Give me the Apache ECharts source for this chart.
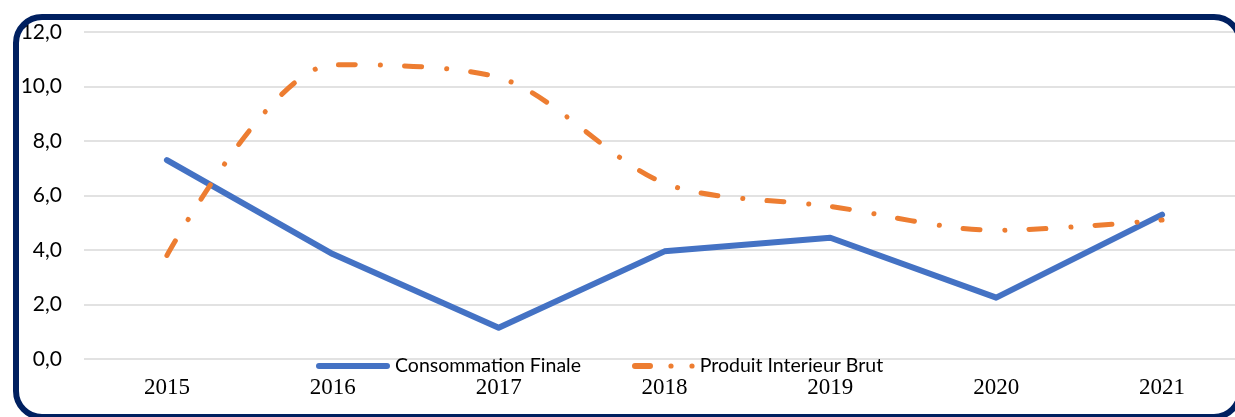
<!DOCTYPE html>
<html>
<head>
<meta charset="utf-8">
<script src="https://cdn.jsdelivr.net/npm/echarts@6/dist/echarts.min.js"></script>
<style>
  html, body { margin: 0; padding: 0; background: #ffffff; }
  #chart { width: 1235px; height: 417px; }
</style>
</head>
<body>
<div id="chart"></div>
<script>
const categories = ['2015', '2016', '2017', '2018', '2019', '2020', '2021'];
const consommationFinale = [7.3, 3.85, 1.15, 3.95, 4.45, 2.25, 5.3];
const produitInterieurBrut = [3.8, 10.8, 10.33, 6.45, 5.6, 4.72, 5.1];
const seriesNames = ['Consommation Finale', 'Produit Interieur Brut'];
const yTicks = { min: 0, max: 12, interval: 2 };

const blue = '#4472C4';
const orange = '#ED7D31';

const chart = echarts.init(document.getElementById('chart'), null, { renderer: 'canvas' });

const option = {
  backgroundColor: '#ffffff',
  animation: false,
  grid: { left: 84, top: 32, width: 1161, bottom: 58, containLabel: false, outerBoundsMode: 'none' },
  xAxis: {
    type: 'category',
    data: categories,
    boundaryGap: true,
    axisLine: { show: false },
    axisTick: { show: false },
    axisLabel: {
      margin: 17,
      color: '#000000',
      fontFamily: '"Liberation Serif", "DejaVu Serif", serif',
      fontSize: 23
    }
  },
  yAxis: {
    type: 'value',
    min: yTicks.min,
    max: yTicks.max,
    interval: yTicks.interval,
    axisLine: { show: false },
    axisTick: { show: false },
    splitLine: { lineStyle: { color: '#d9d9d9', width: 1.5 } },
    axisLabel: {
      margin: 22,
      color: '#000000',
      fontFamily: 'Lato, "Noto Sans", sans-serif',
      fontSize: 21,
      formatter: v => v.toFixed(1).replace('.', ',')
    }
  },
  legend: [
    {
      left: 316,
      top: 356,
      padding: 0,
      itemWidth: 74,
      itemHeight: 6,
      data: [{
        name: seriesNames[0],
        icon: 'path://M3,0 L71,0 A3,3 0 0 1 71,6 L3,6 A3,3 0 0 1 3,0 Z',
        itemStyle: { color: blue, borderWidth: 0 }
      }],
      textStyle: { color: '#000000', fontFamily: 'Lato, "Noto Sans", sans-serif', fontSize: 19.5 }
    },
    {
      left: 632,
      top: 356,
      padding: 0,
      itemWidth: 63,
      itemHeight: 6,
      data: [{
        name: seriesNames[1],
        icon: 'path://M3,0 L18,0 A3,3 0 0 1 18,6 L3,6 A3,3 0 0 1 3,0 Z M39,0.4 A2.6,2.6 0 1 1 39,5.6 A2.6,2.6 0 1 1 39,0.4 Z M60,0.4 A2.6,2.6 0 1 1 60,5.6 A2.6,2.6 0 1 1 60,0.4 Z',
        itemStyle: { color: orange, borderWidth: 0 }
      }],
      textStyle: { color: '#000000', fontFamily: 'Lato, "Noto Sans", sans-serif', fontSize: 19.5 }
    }
  ],
  series: [
    {
      name: seriesNames[0],
      type: 'line',
      data: consommationFinale,
      smooth: false,
      symbol: 'none',
      lineStyle: { color: blue, width: 6, cap: 'round', join: 'round' },
      itemStyle: { color: blue }
    },
    {
      name: seriesNames[1],
      type: 'line',
      data: produitInterieurBrut,
      smooth: 0.3,
      symbol: 'none',
      lineStyle: { color: orange, width: 5, cap: 'round', join: 'round', type: [17, 25, 0.1, 24] },
      itemStyle: { color: orange }
    }
  ],
  graphic: [
    {
      type: 'rect',
      silent: true,
      z: 100,
      shape: { x: 16, y: 17, width: 1224, height: 400, r: 26 },
      style: { fill: null, stroke: '#002060', lineWidth: 6 }
    }
  ]
};

chart.setOption(option);
</script>
</body>
</html>
